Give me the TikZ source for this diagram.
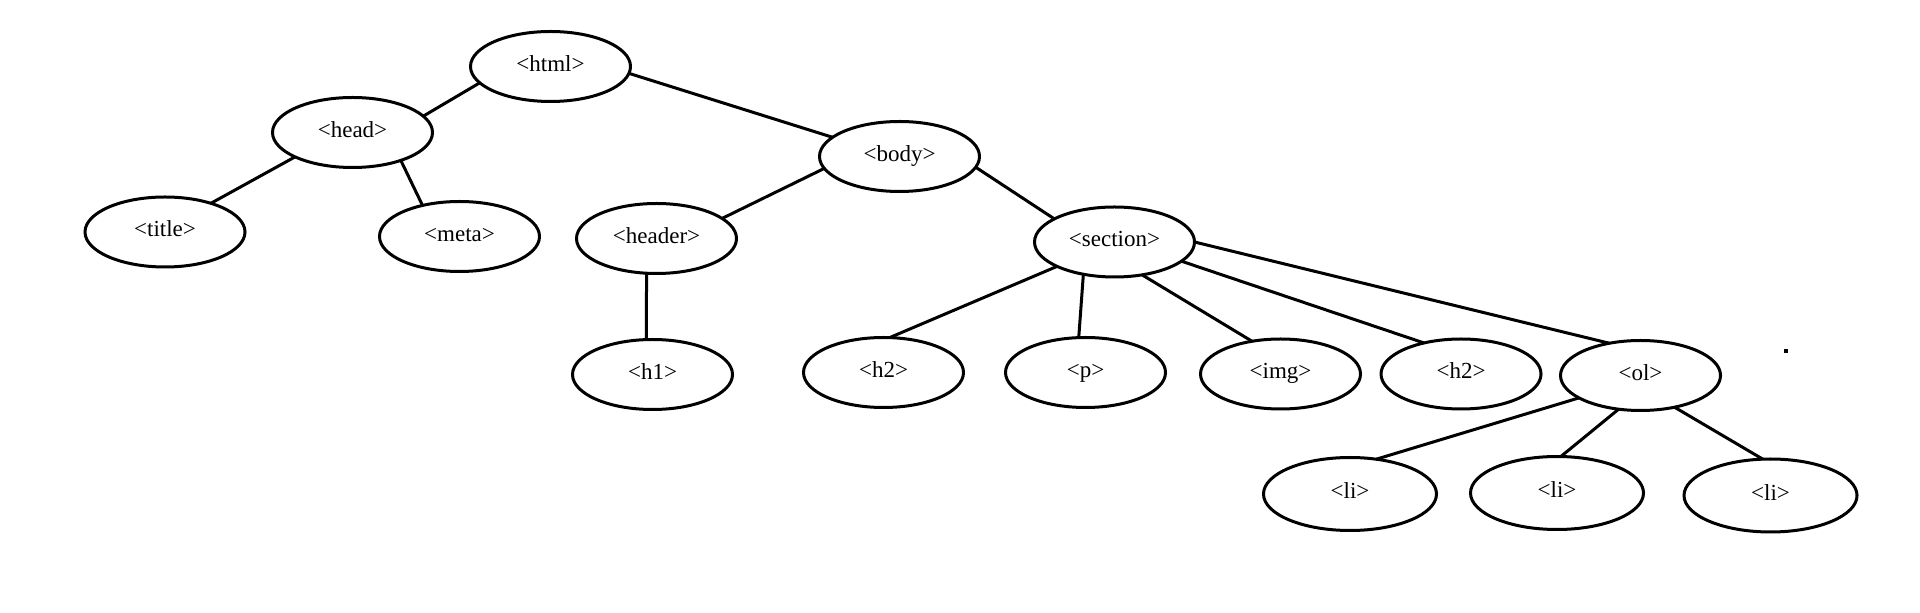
\documentclass[tikz,border=0pt]{standalone}
\usepackage{fontspec}
\setmainfont{Liberation Serif}
\usetikzlibrary{shapes.geometric}
\tikzset{
  tag/.style={draw, ellipse, line width=1.5pt, inner sep=0pt, outer sep=0pt,
    minimum width=80pt, minimum height=35pt, text height=0.68em, text depth=0.2em,
    font=\fontsize{11.5}{13}\selectfont},
  litag/.style={tag, minimum width=86.5pt, minimum height=36.5pt},
  edge/.style={line width=1.5pt}
}
\begin{document}
\begin{tikzpicture}[x=0.5pt, y=-0.5pt]
\useasboundingbox (0,0) rectangle (1920,613);
\node[tag] (html) at (550.5,66.5) {<html>};
\node[tag] (head) at (352.5,132.5) {<head>};
\node[tag] (body) at (899.5,156.5) {<body>};
\node[tag] (title) at (165,232) {<title>};
\node[tag] (meta) at (459.5,236.5) {<meta>};
\node[tag] (header) at (656.5,238.5) {<header>};
\node[tag] (section) at (1114.5,242) {<section>};
\node[tag] (h1) at (652.5,374.5) {<h1>};
\node[tag] (h2a) at (883.5,372.5) {<h2>};
\node[tag] (p) at (1085.5,372.5) {<p>};
\node[tag] (img) at (1280.5,374) {<img>};
\node[tag] (h2b) at (1461,374) {<h2>};
\node[tag] (ol) at (1640.5,375.5) {<ol>};
\node[litag] (li1) at (1350,494) {<li>};
\node[litag] (li2) at (1557,493) {<li>};
\node[litag] (li3) at (1770.5,495.5) {<li>};

\draw[edge] (html.193.4) -- (head.13.75);
\draw[edge] (html.355.4) -- (body.164.5);
\draw[edge] (head.203.2) -- (title.32.5);
\draw[edge] (head.330.6) -- (meta.140.5);
\draw[edge] (body.189.2) -- (header.17.7);
\draw[edge] (body.352.3) -- (section.159.8);
\draw[edge] (header.254.7) -- (h1.100.2);
\draw[edge] (section.203.5) -- (h2a.80.2);
\draw[edge] (section.226.3) -- (p.101.6);
\draw[edge] (section.310.9) -- (img.131.1);
\draw[edge] (section.344.4) -- (h2b.140.6);
\draw[edge] (section.0) -- (ol.134.2);
\draw[edge] (ol.200.3) -- (li1.53.9);
\draw[edge] (ol.237.6) -- (li2.84);
\draw[edge] (ol.317.5) -- (li3.102.8);

\fill (1784,349) rectangle (1788,353);
\end{tikzpicture}
\end{document}
